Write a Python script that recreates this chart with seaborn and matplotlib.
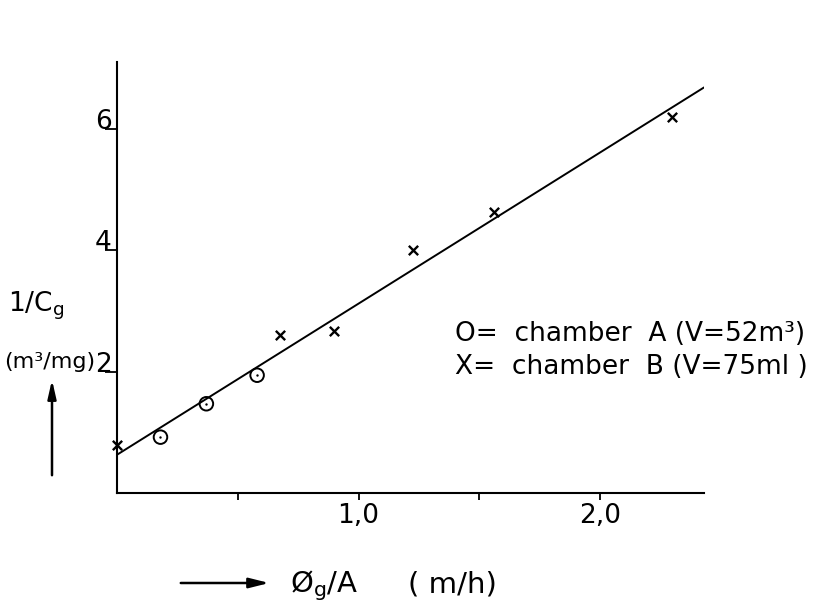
import matplotlib
matplotlib.use("Agg")
import matplotlib.pyplot as plt
import numpy as np
import pandas as pd
import seaborn as sns

# Measured points: chamber A (circles) and chamber B (crosses)
chamber_a_x = [0.18, 0.37, 0.58]
chamber_a_y = [0.92, 1.47, 1.94]
chamber_b_x = [0.0, 0.675, 0.90, 1.226, 1.561, 2.298]
chamber_b_y = [0.79, 2.60, 2.67, 4.00, 4.63, 6.19]

# Straight-line fit 1/Cg = a + b * (phi_g / A)
fit_intercept = 0.63
fit_slope = 2.49
fit_x_range = [0.0, 2.43]

x_ticks = [0.5, 1.0, 1.5, 2.0]
x_tick_labels = ["", "1,0", "", "2,0"]
y_ticks = [2, 4, 6]
y_tick_labels = ["2", "4", "6"]

sns.set_theme(style="white")
plt.rcParams["font.family"] = ["DejaVu Sans"]
plt.rcParams["mathtext.default"] = "regular"
plt.rcParams["text.color"] = "black"

fig = plt.figure(figsize=(8.25, 6.05), dpi=100)
ax = fig.add_axes([117 / 825, 1 - 493 / 605, (704 - 117) / 825, (493 - 62) / 605])

df_a = pd.DataFrame({"x": chamber_a_x, "y": chamber_a_y})
df_b = pd.DataFrame({"x": chamber_b_x, "y": chamber_b_y})
fit_x = np.array(fit_x_range)
df_fit = pd.DataFrame({"x": fit_x, "y": fit_intercept + fit_slope * fit_x})

sns.lineplot(data=df_fit, x="x", y="y", ax=ax, color="black", linewidth=1.4)
sns.scatterplot(data=df_a, x="x", y="y", ax=ax, marker="o", s=95,
                facecolor="none", edgecolor="black", linewidth=1.4, clip_on=False)
sns.scatterplot(data=df_a, x="x", y="y", ax=ax, marker="o", s=3,
                color="black", linewidth=0, clip_on=False)
sns.scatterplot(data=df_b, x="x", y="y", ax=ax, marker="x", s=45,
                color="black", linewidth=1.7, clip_on=False)

ax.set_xlim(0, 2.43)
ax.set_ylim(0, 7.1)
sns.despine(ax=ax)
for side in ("left", "bottom"):
    ax.spines[side].set_linewidth(1.5)
    ax.spines[side].set_color("black")

ax.set_xticks(x_ticks)
ax.set_xticklabels(x_tick_labels)
ax.set_yticks(y_ticks)
ax.set_yticklabels(y_tick_labels)
ax.tick_params(axis="x", direction="out", length=5, width=1.3, pad=2,
               labelsize=19, colors="black", bottom=True)
ax.tick_params(axis="y", direction="out", length=9, width=1.3, pad=-5,
               labelsize=19, colors="black", left=True)
for lab in ax.get_yticklabels():
    lab.set_verticalalignment("baseline")
ax.set_xlabel("")
ax.set_ylabel("")

# Axis titles with direction arrows
fig.text(8 / 825, 1 - 312 / 605, "1/C$_g$", fontsize=19, ha="left", va="baseline")
fig.text(4 / 825, 1 - 368 / 605, "(m³/mg)", fontsize=16, ha="left", va="baseline")
fig.add_artist(matplotlib.patches.FancyArrowPatch(
    (52 / 825, 1 - 478 / 605), (52 / 825, 1 - 377 / 605),
    transform=fig.transFigure, arrowstyle="-|>,head_length=11,head_width=2.5",
    color="black", linewidth=1.8, mutation_scale=1))
fig.add_artist(matplotlib.patches.FancyArrowPatch(
    (178 / 825, 1 - 583 / 605), (272 / 825, 1 - 583 / 605),
    transform=fig.transFigure, arrowstyle="-|>,head_length=12,head_width=3",
    color="black", linewidth=1.8, mutation_scale=1))
fig.text(290 / 825, 1 - 592 / 605, "Ø$_g$/A", fontsize=21, ha="left", va="baseline")
fig.text(408 / 825, 1 - 592 / 605, "( m/h)", fontsize=21, ha="left", va="baseline")

# Key for the two chambers
fig.text(455 / 825, 1 - 341 / 605, "O=  chamber  A (V=52m³)", fontsize=19,
         ha="left", va="baseline")
fig.text(455 / 825, 1 - 374 / 605, "X=  chamber  B (V=75ml )", fontsize=19,
         ha="left", va="baseline")

fig.savefig("out.png", dpi=100, facecolor="white")
